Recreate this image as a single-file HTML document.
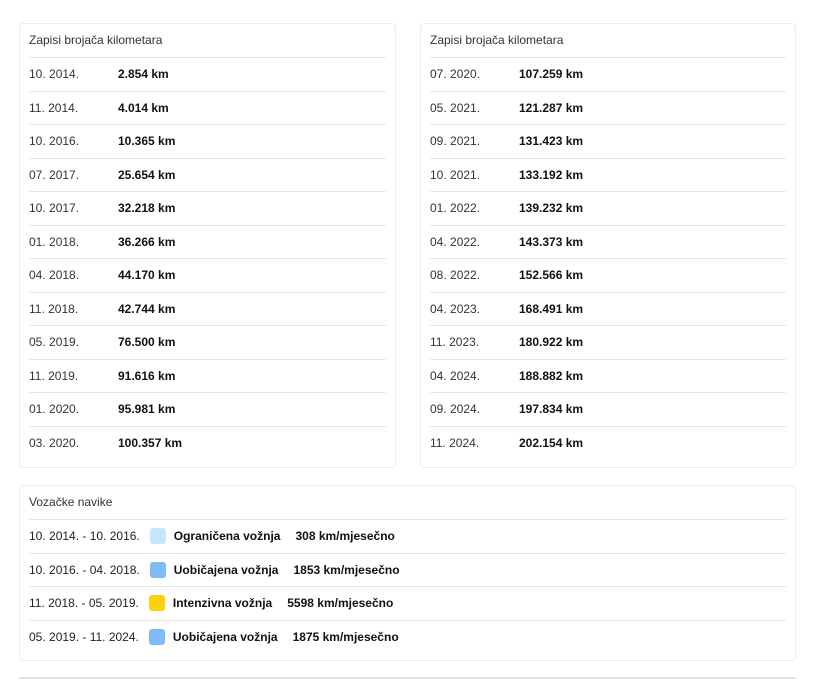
<!DOCTYPE html>
<html><head><meta charset="utf-8"><style>
*{margin:0;padding:0;box-sizing:border-box}
body{width:820px;height:690px;background:#fff;font-family:"Liberation Sans",sans-serif;font-size:12px;color:#222;position:relative;overflow:hidden}
.card{position:absolute;border:1px solid #ececec;border-radius:4px;background:#fff}
.title{position:absolute;left:9px;top:9px;color:#333}
.row{position:absolute;left:9px;right:9px;height:33px;border-top:1px solid #e6e6e6;display:flex;align-items:center}
.d{width:89px;color:#333}
.v{font-weight:bold;color:#111}
.sw{width:16px;height:16px;border-radius:3px;margin:0 8px 0 10px}
.lab{font-weight:bold;margin-right:15px;color:#111}
</style></head><body>
<div class="card" style="left:19px;top:23px;width:377px;height:445px">
<div class="title">Zapisi brojača kilometara</div>
<div class="row" style="top:33px"><span class="d">10. 2014.</span><span class="v">2.854 km</span></div>
<div class="row" style="top:66.5px"><span class="d">11. 2014.</span><span class="v">4.014 km</span></div>
<div class="row" style="top:100px"><span class="d">10. 2016.</span><span class="v">10.365 km</span></div>
<div class="row" style="top:133.5px"><span class="d">07. 2017.</span><span class="v">25.654 km</span></div>
<div class="row" style="top:167px"><span class="d">10. 2017.</span><span class="v">32.218 km</span></div>
<div class="row" style="top:200.5px"><span class="d">01. 2018.</span><span class="v">36.266 km</span></div>
<div class="row" style="top:234px"><span class="d">04. 2018.</span><span class="v">44.170 km</span></div>
<div class="row" style="top:267.5px"><span class="d">11. 2018.</span><span class="v">42.744 km</span></div>
<div class="row" style="top:301px"><span class="d">05. 2019.</span><span class="v">76.500 km</span></div>
<div class="row" style="top:334.5px"><span class="d">11. 2019.</span><span class="v">91.616 km</span></div>
<div class="row" style="top:368px"><span class="d">01. 2020.</span><span class="v">95.981 km</span></div>
<div class="row" style="top:401.5px"><span class="d">03. 2020.</span><span class="v">100.357 km</span></div>
</div>
<div class="card" style="left:420px;top:23px;width:376px;height:445px">
<div class="title">Zapisi brojača kilometara</div>
<div class="row" style="top:33px"><span class="d">07. 2020.</span><span class="v">107.259 km</span></div>
<div class="row" style="top:66.5px"><span class="d">05. 2021.</span><span class="v">121.287 km</span></div>
<div class="row" style="top:100px"><span class="d">09. 2021.</span><span class="v">131.423 km</span></div>
<div class="row" style="top:133.5px"><span class="d">10. 2021.</span><span class="v">133.192 km</span></div>
<div class="row" style="top:167px"><span class="d">01. 2022.</span><span class="v">139.232 km</span></div>
<div class="row" style="top:200.5px"><span class="d">04. 2022.</span><span class="v">143.373 km</span></div>
<div class="row" style="top:234px"><span class="d">08. 2022.</span><span class="v">152.566 km</span></div>
<div class="row" style="top:267.5px"><span class="d">04. 2023.</span><span class="v">168.491 km</span></div>
<div class="row" style="top:301px"><span class="d">11. 2023.</span><span class="v">180.922 km</span></div>
<div class="row" style="top:334.5px"><span class="d">04. 2024.</span><span class="v">188.882 km</span></div>
<div class="row" style="top:368px"><span class="d">09. 2024.</span><span class="v">197.834 km</span></div>
<div class="row" style="top:401.5px"><span class="d">11. 2024.</span><span class="v">202.154 km</span></div>
</div>
<div class="card" style="left:19px;top:485px;width:777px;height:176px">
<div class="title">Vozačke navike</div>
<div class="row" style="top:33px"><span>10. 2014. - 10. 2016.</span><span class="sw" style="background:#c8e6fb"></span><span class="lab">Ograničena vožnja</span><span class="v">308 km/mjesečno</span></div>
<div class="row" style="top:66.5px"><span>10. 2016. - 04. 2018.</span><span class="sw" style="background:#7fbcf5"></span><span class="lab">Uobičajena vožnja</span><span class="v">1853 km/mjesečno</span></div>
<div class="row" style="top:100px"><span>11. 2018. - 05. 2019.</span><span class="sw" style="background:#fdd20a"></span><span class="lab">Intenzivna vožnja</span><span class="v">5598 km/mjesečno</span></div>
<div class="row" style="top:133.5px"><span>05. 2019. - 11. 2024.</span><span class="sw" style="background:#7fbcf5"></span><span class="lab">Uobičajena vožnja</span><span class="v">1875 km/mjesečno</span></div>
</div>
<div style="position:absolute;left:19px;top:677px;width:777px;height:2px;background:#e2e2e2"></div>
</body></html>
